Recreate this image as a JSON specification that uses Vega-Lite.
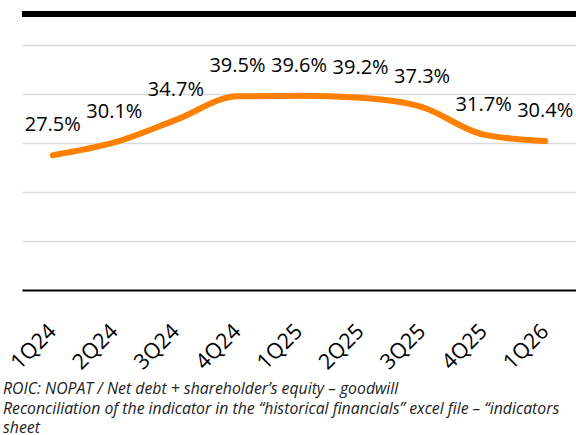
{
  "$schema": "https://vega.github.io/schema/vega-lite/v6.json",
  "width": 554,
  "height": 276,
  "autosize": {"type": "none"},
  "padding": {"left": 22, "top": 14, "right": 0, "bottom": 145},
  "background": "white",
  "config": {"view": {"stroke": null}, "font": "Open Sans"},
  "data": {
    "values": [
      {"q": "1Q24", "roic": 0.275},
      {"q": "2Q24", "roic": 0.301},
      {"q": "3Q24", "roic": 0.347},
      {"q": "4Q24", "roic": 0.395},
      {"q": "1Q25", "roic": 0.396},
      {"q": "2Q25", "roic": 0.392},
      {"q": "3Q25", "roic": 0.373},
      {"q": "4Q25", "roic": 0.317},
      {"q": "1Q26", "roic": 0.304}
    ]
  },
  "title": {
    "text": [
      "ROIC: NOPAT / Net debt + shareholder’s equity – goodwill",
      "Reconciliation of the indicator in the “historical financials” excel file – “indicators",
      "sheet"
    ],
    "orient": "bottom",
    "anchor": "start",
    "frame": "group",
    "dx": -19,
    "offset": 9,
    "font": "Open Sans",
    "fontSize": 15.8,
    "fontStyle": "italic",
    "fontWeight": "normal",
    "color": "#222222",
    "lineHeight": 19.5
  },
  "layer": [
    {
      "data": {"values": [{}]},
      "mark": {"type": "rule", "color": "black", "strokeWidth": 6},
      "encoding": {"y": {"datum": 0.563, "type": "quantitative", "scale": {"domain": [0, 0.563], "nice": false, "zero": true}}}
    },
    {
      "mark": {"type": "line", "color": "#FF7F00", "strokeWidth": 6, "interpolate": "monotone", "strokeCap": "round"},
      "encoding": {
        "x": {
          "field": "q", "type": "ordinal", "sort": null,
          "scale": {"type": "point", "padding": 0.5},
          "axis": {
            "title": null, "ticks": false, "grid": false,
            "domainColor": "black", "domainWidth": 2,
            "labelAngle": -45, "labelAlign": "right", "labelBaseline": "middle",
            "labelFontSize": 21.5, "labelColor": "black", "labelPadding": 38, "labelFont": "Open Sans"
          }
        },
        "y": {
          "field": "roic", "type": "quantitative",
          "scale": {"domain": [0, 0.563], "nice": false},
          "axis": {
            "title": null, "domain": false, "ticks": false, "labels": false,
            "grid": true, "gridColor": "#d9d9d9", "gridWidth": 1.5,
            "values": [0.1, 0.2, 0.3, 0.4, 0.5]
          }
        }
      }
    },
    {
      "mark": {"type": "text", "dy": -24, "baseline": "alphabetic", "align": "center", "fontSize": 20, "color": "black", "font": "Open Sans"},
      "encoding": {
        "x": {"field": "q", "type": "ordinal", "sort": null},
        "y": {"field": "roic", "type": "quantitative"},
        "text": {"field": "roic", "type": "quantitative", "format": ".1%"}
      }
    }
  ]
}
